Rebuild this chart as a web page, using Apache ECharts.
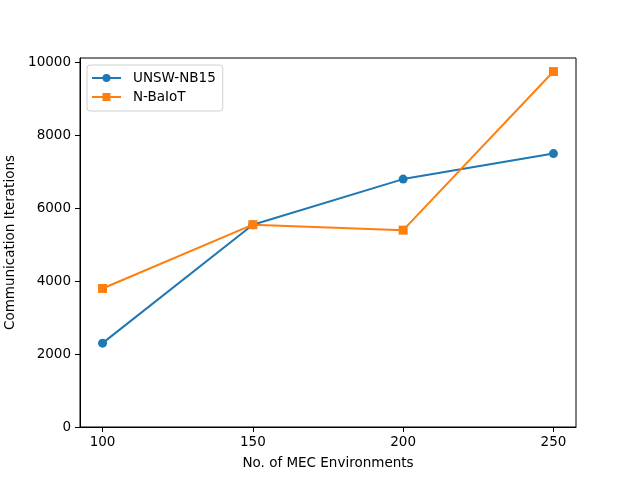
<!DOCTYPE html>
<html><head><meta charset="utf-8">
<script src="https://cdn.jsdelivr.net/npm/echarts@6/dist/echarts.min.js"></script>
<style>html,body{margin:0;padding:0;background:#fff}#c{width:640px;height:480px}</style>
</head><body><div id="c"></div>
<script>
const xValues = [100, 150, 200, 250];
const unswValues = [2300, 5550, 6800, 7500];
const nbaiotValues = [3800, 5550, 5400, 9750];
const xTicks = [100, 150, 200, 250];
const yTicks = [0, 2000, 4000, 6000, 8000, 10000];
const F = 'DejaVu Sans';
const chart = echarts.init(document.getElementById('c'));
chart.setOption({
  animation: false,
  backgroundColor: '#fff',
  grid: {left: 80, right: 64, top: 58, bottom: 53, show: true, borderColor: '#000', borderWidth: 1, containLabel: false, outerBoundsMode: 'none'},
  legend: {
    orient: 'vertical', left: 87, top: 65, padding: [6, 7, 7, 4],
    itemWidth: 29, itemHeight: 10, itemGap: 5,
    backgroundColor: '#fff', borderColor: '#d0d0d0', borderWidth: 1, borderRadius: 3,
    textStyle: {fontFamily: F, fontSize: 13.5, color: '#000', padding: [0, 0, 0, 7]},
    data: ['UNSW-NB15', 'N-BaIoT']
  },
  xAxis: {
    type: 'value', min: 92.5, max: 257.5,
    name: 'No. of MEC Environments', nameLocation: 'middle', nameGap: 29,
    nameTextStyle: {fontFamily: F, fontSize: 13.5, color: '#000'},
    axisLine: {show: true, lineStyle: {color: '#000', width: 1}},
    axisTick: {show: true, length: 5, inside: false, lineStyle: {color: '#000'}, customValues: xTicks},
    axisLabel: {fontFamily: F, fontSize: 13.5, color: '#000', margin: 8, customValues: xTicks, formatter: v => String(v)},
    splitLine: {show: false}
  },
  yAxis: {
    type: 'value', min: 0, max: 10122,
    name: 'Communication Iterations', nameLocation: 'middle', nameGap: 53,
    nameTextStyle: {fontFamily: F, fontSize: 13.5, color: '#000'},
    axisLine: {show: true, lineStyle: {color: '#000', width: 1}},
    axisTick: {show: true, length: 5, inside: false, lineStyle: {color: '#000'}, customValues: yTicks},
    axisLabel: {fontFamily: F, fontSize: 13.5, color: '#000', margin: 9, customValues: yTicks, formatter: v => String(v)},
    splitLine: {show: false}
  },
  series: [
    {name: 'UNSW-NB15', type: 'line', data: xValues.map((x, i) => [x, unswValues[i]]),
     symbol: 'circle', symbolSize: 9, color: '#1f77b4',
     lineStyle: {width: 2, color: '#1f77b4'}, itemStyle: {color: '#1f77b4'}},
    {name: 'N-BaIoT', type: 'line', data: xValues.map((x, i) => [x, nbaiotValues[i]]),
     symbol: 'rect', symbolSize: 9, color: '#ff7f0e',
     lineStyle: {width: 2, color: '#ff7f0e'}, itemStyle: {color: '#ff7f0e'}}
  ]
});
</script></body></html>
